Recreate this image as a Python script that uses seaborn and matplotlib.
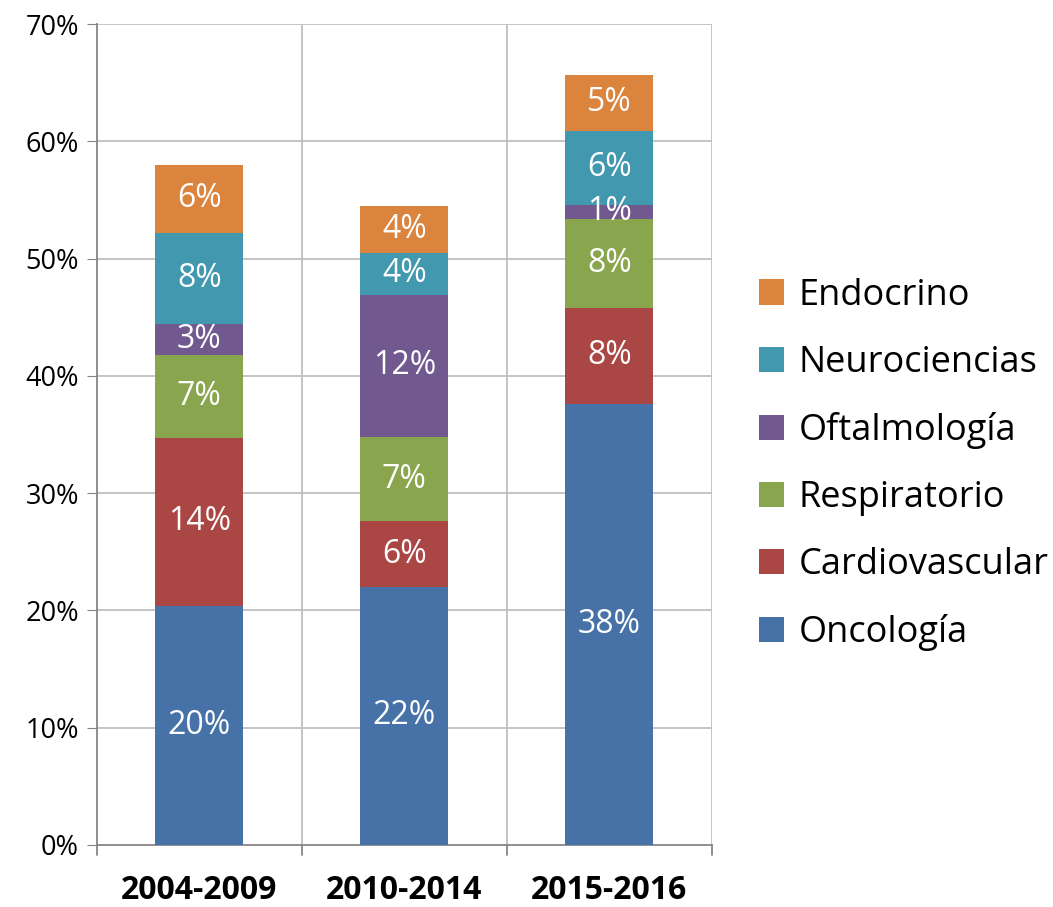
import numpy as np
import matplotlib
matplotlib.use("Agg")
import matplotlib.pyplot as plt
import seaborn as sns

# data (percent)
periods = ["2004-2009", "2010-2014", "2015-2016"]
areas = ["Oncología", "Cardiovascular", "Respiratorio", "Oftalmología", "Neurociencias", "Endocrino"]
oncologia = [20.4, 22.0, 37.6]
cardiovascular = [14.3, 5.6, 8.2]
respiratorio = [7.1, 7.2, 7.6]
oftalmologia = [2.6, 12.1, 1.2]
neurociencias = [7.8, 3.6, 6.3]
endocrino = [5.8, 4.0, 4.8]
colors = ["#4672A8", "#AA4744", "#89A64E", "#71588F", "#4198AF", "#DB843D"]

series = [oncologia, cardiovascular, respiratorio, oftalmologia, neurociencias, endocrino]

sns.set_style("white")
plt.rcParams['font.family'] = ['Open Sans', 'DejaVu Sans']
plt.rcParams['text.color'] = 'black'
plt.rcParams['xtick.color'] = 'black'
plt.rcParams['ytick.color'] = 'black'

fig = plt.figure(figsize=(10.53, 9.07), dpi=100)
ax = fig.add_axes([0.092, 0.0684, 0.584, 0.905])

bottom = np.zeros(len(periods))
for name, vals, col in zip(areas, series, colors):
    sns.barplot(x=periods, y=vals, bottom=bottom, color=col, width=0.43, saturation=1,
                label=name, ax=ax, zorder=3, linewidth=0)
    bottom = bottom + np.array(vals)

for cont in ax.containers:
    labels = [f"{b.get_height():.0f}%" for b in cont]
    ax.bar_label(cont, labels=labels, label_type='center', color='white', fontsize=23)

ax.set_xlim(-0.5, 2.5)
ax.set_ylim(0, 70)
ax.set_yticks(range(0, 71, 10))
ax.set_yticklabels([f"{v}%" for v in range(0, 71, 10)], fontsize=19.5)
ax.set_xticks([0, 1, 2])
ax.set_xticklabels(periods, fontsize=23, fontweight='bold')
ax.tick_params(axis='x', length=0, pad=21, labelcolor='black')
ax.tick_params(axis='y', length=7, color='#868686', left=True, pad=6, labelcolor='black')

# gridlines: horizontal at ticks, vertical at category boundaries
for y in range(10, 71, 10):
    ax.axhline(y, color='#BFBFBF', lw=1.3, zorder=1)
for x in [0.5, 1.5, 2.5]:
    ax.axvline(x, color='#BFBFBF', lw=1.3, zorder=1)
for x in [-0.5, 0.5, 1.5, 2.5]:
    ax.plot([x, x], [0, -0.012], transform=ax.get_xaxis_transform(),
            color='#868686', lw=1.3, clip_on=False)

for s in ['top', 'right']:
    ax.spines[s].set_visible(False)
for s in ['left', 'bottom']:
    ax.spines[s].set_color('#868686')
    ax.spines[s].set_linewidth(1.3)
ax.set_xlabel("")
ax.set_ylabel("")

handles, labs = ax.get_legend_handles_labels()
if ax.get_legend() is not None:
    ax.get_legend().remove()
fig.legend(handles[::-1], labs[::-1], loc='center left', bbox_to_anchor=(0.69, 0.488),
           frameon=False, fontsize=26, handlelength=0.7, handleheight=0.7,
           handletextpad=0.4, labelspacing=0.86, labelcolor='black')

fig.savefig("out.png", dpi=100)
